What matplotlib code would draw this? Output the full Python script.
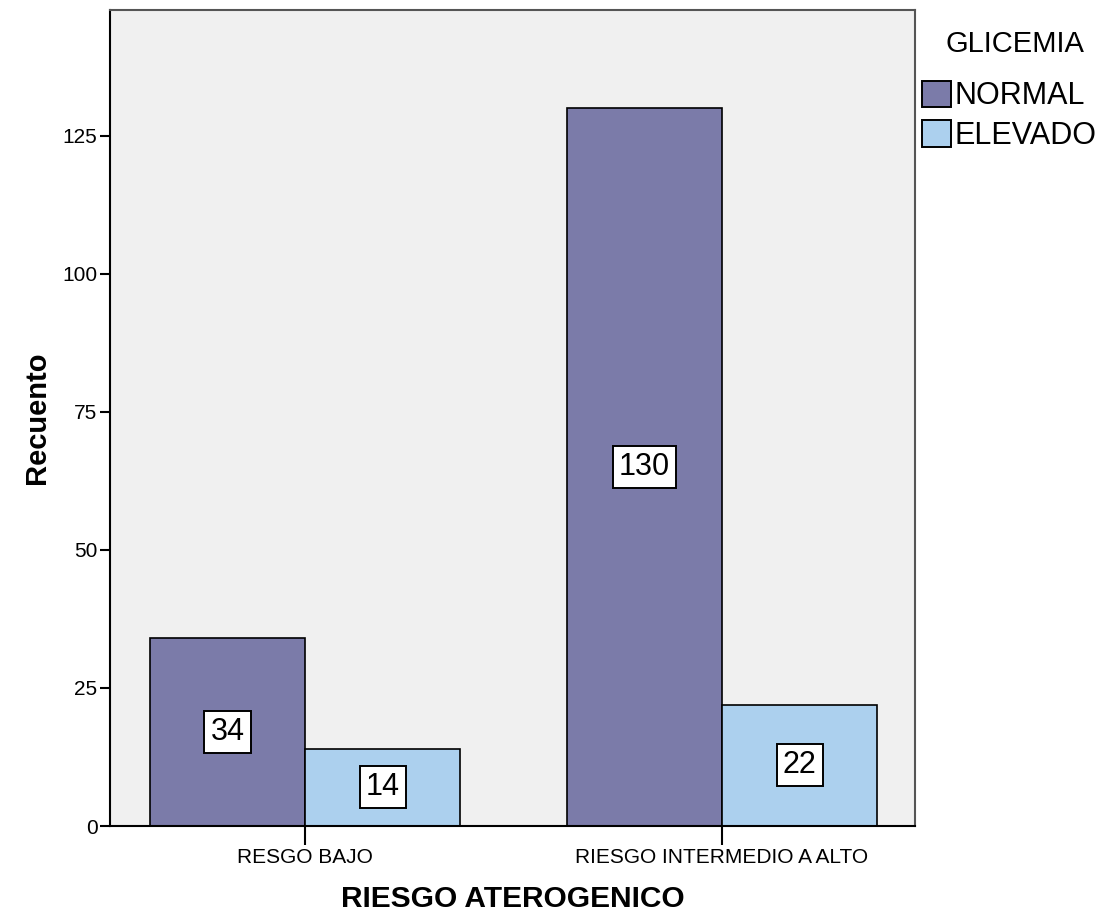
import numpy as np
import matplotlib
matplotlib.use("Agg")
import matplotlib.pyplot as plt
from matplotlib.patches import Patch

# Data
categories = ["RESGO BAJO", "RIESGO INTERMEDIO A ALTO"]
series_names = ["NORMAL", "ELEVADO"]
normal_counts = [34, 130]
elevado_counts = [14, 22]
y_ticks = [0, 25, 50, 75, 100, 125]

colors = {"NORMAL": "#7B7BA9", "ELEVADO": "#ACD0EE"}

plt.rcParams['font.family'] = ['Liberation Sans', 'DejaVu Sans']

fig = plt.figure(figsize=(11.15, 9.16), dpi=100)
ax = fig.add_axes([110 / 1115, 90 / 916, 805 / 1115, 816 / 916])
ax.set_facecolor("#F0F0F0")

x = np.arange(len(categories))
width = 0.372
series = [normal_counts, elevado_counts]
offsets = [-width / 2, width / 2]

for name, vals, off in zip(series_names, series, offsets):
    bars = ax.bar(x + off, vals, width, color=colors[name],
                  edgecolor="black", linewidth=1.2, zorder=2)
    for b, v in zip(bars, vals):
        ax.text(b.get_x() + b.get_width() / 2, v / 2, str(v),
                ha="center", va="center", fontsize=22, zorder=3,
                bbox=dict(boxstyle="square,pad=0.2", facecolor="white",
                          edgecolor="black", linewidth=1.4))

ax.set_xlim(-0.468, 1.463)
ax.set_ylim(0, 147.8)
ax.set_yticks(y_ticks)
ax.set_yticklabels([str(t) for t in y_ticks], fontsize=15)
ax.set_xticks(x)
ax.set_xticklabels(categories, fontsize=15)
ax.tick_params(axis="y", length=7, width=1.5, direction="out", pad=2)
ax.tick_params(axis="x", length=14, width=1.5, direction="out", pad=2)

for side in ["left", "bottom"]:
    ax.spines[side].set_color("black")
    ax.spines[side].set_linewidth(1.5)
for side in ["top", "right"]:
    ax.spines[side].set_color("#555555")
    ax.spines[side].set_linewidth(1.5)

ax.set_ylabel("Recuento", fontsize=21, fontweight="bold", labelpad=8)
ax.set_xlabel("RIESGO ATEROGENICO", fontsize=21.5, fontweight="bold", labelpad=13)

handles = [Patch(facecolor=colors[n], edgecolor="black", linewidth=1.4)
           for n in series_names]
leg = fig.legend(handles, series_names, title="GLICEMIA",
                 loc="upper left", bbox_to_anchor=(901 / 1115, 1 - 9 / 916),
                 frameon=False, fontsize=22, title_fontsize=21,
                 handlelength=0.95, handleheight=0.95, handletextpad=0.1,
                 labelspacing=0.3, borderpad=0.2)
leg.get_title().set_position((6, 0))
leg._legend_box.sep = 16

fig.savefig("out.png", dpi=100)
